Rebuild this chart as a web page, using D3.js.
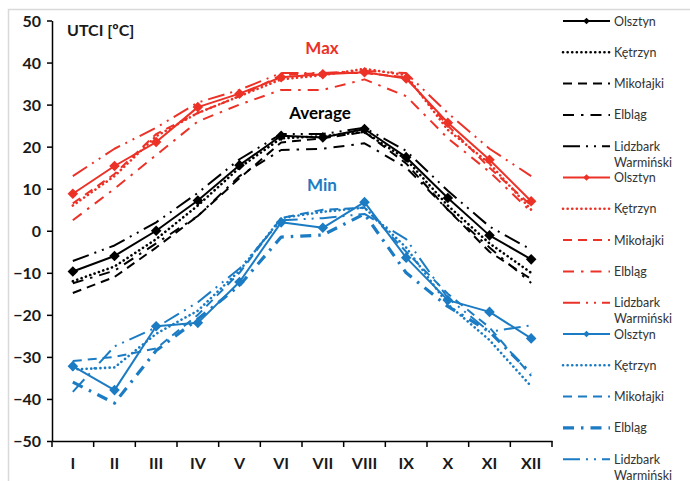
<!DOCTYPE html>
<html><head><meta charset="utf-8">
<script src="https://cdn.jsdelivr.net/npm/d3@7"></script>
<style>body{margin:0;background:#fff}svg{display:block}</style>
</head><body>
<svg id="c" width="690" height="481"></svg>
<script>
const months = ["I","II","III","IV","V","VI","VII","VIII","IX","X","XI","XII"];
const stations = ["Olsztyn","Kętrzyn","Mikołajki","Elbląg","Lidzbark Warmiński"];
const yTicks = [50,40,30,20,10,0,-10,-20,-30,-40,-50];

// Average
const avgOlsztyn  = [-9.7,-6,0,7.2,15.6,22.6,22.2,24.2,17.5,7.8,-1.1,-6.8];
const avgKetrzyn  = [-12,-8.5,-2,6,15,22,22.5,23.5,17,6,-3,-10];
const avgMikolajki= [-14.8,-11,-4,3.5,12.5,21,22,23.5,16,5,-5,-11.5];
const avgElblag   = [-12.5,-9.5,-3,3.5,13,19.2,19.5,20.8,15,5,-4,-12.4];
const avgLidzbark = [-7.2,-3.5,2,9,17,23,23,24.5,19,9.5,1,-4.5];
// Max
const maxOlsztyn  = [8.8,15.4,21.1,29.4,32.6,36.5,37.2,37.7,36.2,25.7,16.9,7];
const maxKetrzyn  = [6,13,22.5,28,32,36,37,38.5,37,24,16,5];
const maxMikolajki= [6.5,13.5,23,28,32,37,37.5,37.5,36.5,25,15,6];
const maxElblag   = [2.5,10,18,26,30,33.5,33.5,36,32,22,14,4.5];
const maxLidzbark = [13,19.5,24.5,30.5,33.5,37.5,37.5,38,37.5,28,19.5,13];
// Min
const minOlsztyn  = [-32.2,-37.9,-22.7,-21.9,-12.2,2,0.7,6.8,-6.4,-16.5,-19.3,-25.6];
const minKetrzyn  = [-33,-32.5,-24.5,-19,-9.5,3,4.5,5.5,-4,-17.5,-26,-37];
const minMikolajki= [-31,-30,-28,-20,-10,3,5,5.5,-5,-15,-23,-34.5];
const minElblag   = [-36,-41,-28.5,-21,-13,-1.5,-1,4,-10,-18,-24,-34];
const minLidzbark = [-38.3,-27.5,-23,-17,-9,2.5,3,4,-2,-16,-24,-22.5];

const RED = "#ec3127", BLUE = "#1b7bc3", BLACK = "#000";
const groups = [
  {name:"Max", color:RED, series:[maxOlsztyn,maxKetrzyn,maxMikolajki,maxElblag,maxLidzbark], label:{x:322,y:54}},
  {name:"Average", color:BLACK, series:[avgOlsztyn,avgKetrzyn,avgMikolajki,avgElblag,avgLidzbark], label:{x:320,y:119}},
  {name:"Min", color:BLUE, series:[minOlsztyn,minKetrzyn,minMikolajki,minElblag,minLidzbark], label:{x:322,y:191}}
];
const legendOrder = ["Average","Max","Min"];

const styles = [
  {dash:null, w:2},
  {dash:"0.1,4.5", w:2.6},
  {dash:"9,6", w:2},
  {dash:"11,7,2.5,7", w:2},
  {dash:"17,6,2,6,2,6", w:2}
];

const svg = d3.select("#c");
const font = "Lato, 'Open Sans', sans-serif";
svg.append("rect").attr("x",8.5).attr("y",9.5).attr("width",700).attr("height",500)
  .attr("fill","none").attr("stroke","#d9d9d9").attr("stroke-width",1.5);

const x0 = 52, x1 = 552, yTop = 20.5, yBot = 441;
const x = d3.scaleBand().domain(months).range([x0,x1]);
const y = d3.scaleLinear().domain([-50,50]).range([yBot,yTop]);

// axes
const gy = svg.append("g").attr("transform",`translate(${x0},0)`)
  .call(d3.axisLeft(y).tickValues(yTicks).tickSize(5).tickSizeOuter(0).tickPadding(6));
const gx = svg.append("g").attr("transform",`translate(0,${yBot})`)
  .call(d3.axisBottom(x).tickSize(0).tickPadding(17));
gx.selectAll(".tick line").remove();
const bounds = months.map(m=>x(m)).concat([x1]);
gx.selectAll("line.b").data(bounds).enter().append("line")
  .attr("x1",d=>d).attr("x2",d=>d).attr("y1",0).attr("y2",6).attr("stroke","#000").attr("stroke-width",1.5);
[gx,gy].forEach(g=>{
  g.select(".domain").attr("stroke","#000").attr("stroke-width",1.5);
  g.selectAll(".tick line").attr("stroke","#000").attr("stroke-width",1.5);
  g.selectAll("text").attr("font-family",font).attr("font-weight","bold").attr("font-size",16).attr("fill","#1a1a1a");
});
gy.selectAll("text").attr("dy","0.35em");

svg.append("text").attr("x",67).attr("y",36).attr("font-family",font).attr("font-weight","bold")
  .attr("font-size",16).attr("fill","#1a1a1a").text("UTCI [ºC]");

const line = d3.line().x((d,i)=>x(months[i])+x.bandwidth()/2).y(d=>y(d));
const diamond = (s)=>d3.symbol().type(d3.symbolSquare).size(s);

groups.forEach(g=>{
  const gg = svg.append("g");
  [4,3,2,1,0].forEach(si=>{
    const st = styles[si];
    let w = st.w;
    if (g.name==="Min" && si===3) w = 3.2;
    gg.append("path").datum(g.series[si]).attr("d",line).attr("fill","none")
      .attr("stroke",g.color).attr("stroke-width",w)
      .attr("stroke-dasharray",st.dash).attr("stroke-linecap", si===1?"round":"butt")
      .attr("stroke-linejoin","round");
  });
  gg.selectAll("path.m").data(g.series[0]).enter().append("path")
    .attr("transform",(d,i)=>`translate(${x(months[i])+x.bandwidth()/2},${y(d)}) rotate(45)`)
    .attr("d",diamond(56)).attr("fill",g.color);
  svg.append("text").attr("x",g.label.x).attr("y",g.label.y).attr("text-anchor","middle")
    .attr("font-family",font).attr("font-weight","bold").attr("font-size",17)
    .attr("fill",g.color).text(g.name);
});

// legend
const lg = svg.append("g");
let row = 0;
legendOrder.forEach(name=>{
  const g = groups.find(d=>d.name===name);
  stations.forEach((s,si)=>{
    const yy = 21 + row*31.3;
    const st = styles[si];
    let w = st.w;
    if (g.name==="Min" && si===3) w = 3.2;
    lg.append("line").attr("x1",563).attr("x2",610).attr("y1",yy).attr("y2",yy)
      .attr("stroke",g.color).attr("stroke-width",w).attr("stroke-dasharray",st.dash)
      .attr("stroke-linecap", si===1?"round":"butt");
    if (si===0) lg.append("path").attr("transform",`translate(586.5,${yy}) rotate(45)`)
      .attr("d",diamond(22)).attr("fill",g.color);
    const parts = s.split(" ");
    parts.forEach((p,pi)=>{
      lg.append("text").attr("x",614).attr("y",yy+4.5+pi*16).attr("font-family",font)
        .attr("font-size",12.5).attr("fill","#333").text(p);
    });
    row++;
  });
});
</script>
</body></html>
